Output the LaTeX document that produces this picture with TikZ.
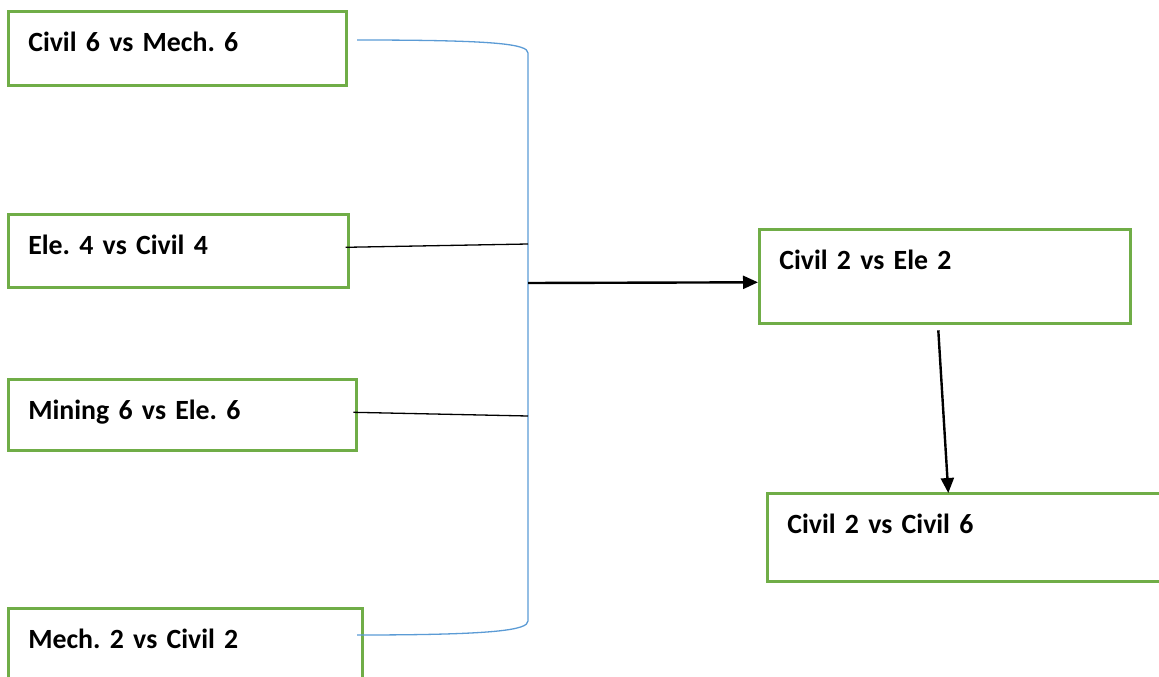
\documentclass[tikz,border=0pt]{standalone}
\usepackage{fontspec}
\setmainfont{Carlito}
\frenchspacing
\definecolor{matchgreen}{RGB}{112,173,71}
\definecolor{bracketblue}{RGB}{91,155,213}
\usetikzlibrary{arrows.meta,calc}

\begin{document}
\begin{tikzpicture}[x=1pt, y=-1pt,
    every node/.style={font=\fontsize{27.8}{33}\selectfont\bfseries},
    match/.style={draw=matchgreen, line width=2.6pt, anchor=north west,
        inner xsep=20pt, inner ysep=0pt, text height=40pt, align=left},
    bracket/.style={draw=bracketblue, line width=1.3pt},
    link/.style={line width=1.3pt},
    flow/.style={line width=2.4pt, -{Triangle[length=15pt,width=13pt]}}]
    \useasboundingbox (0,0) rectangle (1159,677);
    \clip (0,0) rectangle (1159,677);
    % matches
    \foreach \x/\y/\w/\d/\name/\txt in {
        7/10/298/34/civMech/Civil 6 vs Mech. 6,
        7/213/300/33/eleCiv/Ele. 4 vs Civil 4,
        7/378/308/31/minEle/Mining 6 vs Ele. 6,
        7/607/314/40/mechCiv/Mech. 2 vs Civil 2,
        758/228/331/54/civEle/Civil 2 vs Ele 2,
        766/492/357/48/civCiv/Civil 2 vs Civil 6
    } {
        \node[match, text width=\w pt, text depth=\d pt] (\name) at (\x,\y) {\txt};
    }
    % bracket joining the left column
    \coordinate (topEnd) at (357,40);
    \coordinate (spineTop) at (528,53);
    \coordinate (spineA) at (528,244);
    \coordinate (spineMid) at (528,283);
    \coordinate (spineB) at (528,416);
    \coordinate (spineBot) at (528,621);
    \coordinate (botEnd) at (357,635);
    \draw[bracket] (topEnd) .. controls (495,40) and (528,44) .. (spineTop)
        -- (spineBot) .. controls (528,630) and (495,635) .. (botEnd);
    \draw[link] ([xshift=-4pt,yshift=3.5pt]eleCiv.east) -- (spineA);
    \draw[link] ([xshift=-4.3pt,yshift=2.5pt]minEle.east) -- (spineB);
    % winners
    \draw[flow] (spineMid) -- ([yshift=-6pt]civEle.west);
    \draw[flow] ([xshift=-6.5pt,yshift=-5.7pt]civEle.south) -- ([xshift=-17.5pt,yshift=-1pt]civCiv.north);
\end{tikzpicture}
\end{document}
